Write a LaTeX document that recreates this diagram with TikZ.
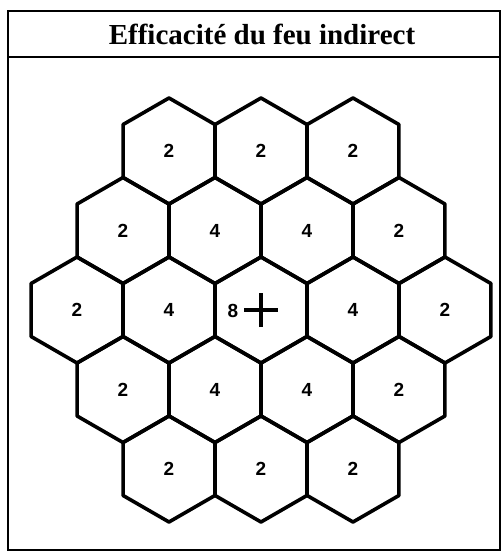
\documentclass[tikz,border=0pt]{standalone}
\usepackage{fontspec}
\setmainfont{Liberation Serif}
\newfontfamily\digitfont{Liberation Sans}
\newcommand{\hexnum}{\digitfont\bfseries\fontsize{19}{19}\selectfont}
\usepackage{tikz}
\usetikzlibrary{shapes.geometric, positioning}
\tikzstyle{hexa} = [regular polygon, regular polygon sides=6, shape border rotate=30, minimum size=106pt, inner sep=0pt, draw=black, line width=3.6pt, line join=round, font=\hexnum]
\tikzstyle{frame} = [line width=2.2pt]
\tikzstyle{cross} = [line width=3.6pt]

\begin{document}
\begin{tikzpicture}[x=1pt, y=-1pt]
\useasboundingbox (0, 0) rectangle (502, 552);

% Frame and title
\draw [frame] (8, 11) rectangle (500, 550);
\draw [frame] (8, 57) -- (500, 57);
\node (title) at (262, 34) {\fontsize{29}{30}\selectfont\textbf{Efficacité du feu indirect}};

% Row 1
\node [hexa] (r1a) at (169, 151) {2};
\node [hexa] (r1b) at (261, 151) {2};
\node [hexa] (r1c) at (353, 151) {2};

% Row 2
\node [hexa] (r2a) at (123, 230.5) {2};
\node [hexa] (r2b) at (215, 230.5) {4};
\node [hexa] (r2c) at (307, 230.5) {4};
\node [hexa] (r2d) at (399, 230.5) {2};

% Row 3
\node [hexa] (r3a) at (77, 310) {2};
\node [hexa] (r3b) at (169, 310) {4};
\node [hexa] (r3c) at (261, 310) {};
\node [hexa] (r3d) at (353, 310) {4};
\node [hexa] (r3e) at (445, 310) {2};

% Row 4
\node [hexa] (r4a) at (123, 389.5) {2};
\node [hexa] (r4b) at (215, 389.5) {4};
\node [hexa] (r4c) at (307, 389.5) {4};
\node [hexa] (r4d) at (399, 389.5) {2};

% Row 5
\node [hexa] (r5a) at (169, 469) {2};
\node [hexa] (r5b) at (261, 469) {2};
\node [hexa] (r5c) at (353, 469) {2};

% Target hex
\node [font=\hexnum] (eight) at (233, 311) {8};
\draw [cross] ([xshift=-17pt]r3c.center) -- ([xshift=17pt]r3c.center);
\draw [cross] ([yshift=-17pt]r3c.center) -- ([yshift=17pt]r3c.center);

\end{tikzpicture}
\end{document}
